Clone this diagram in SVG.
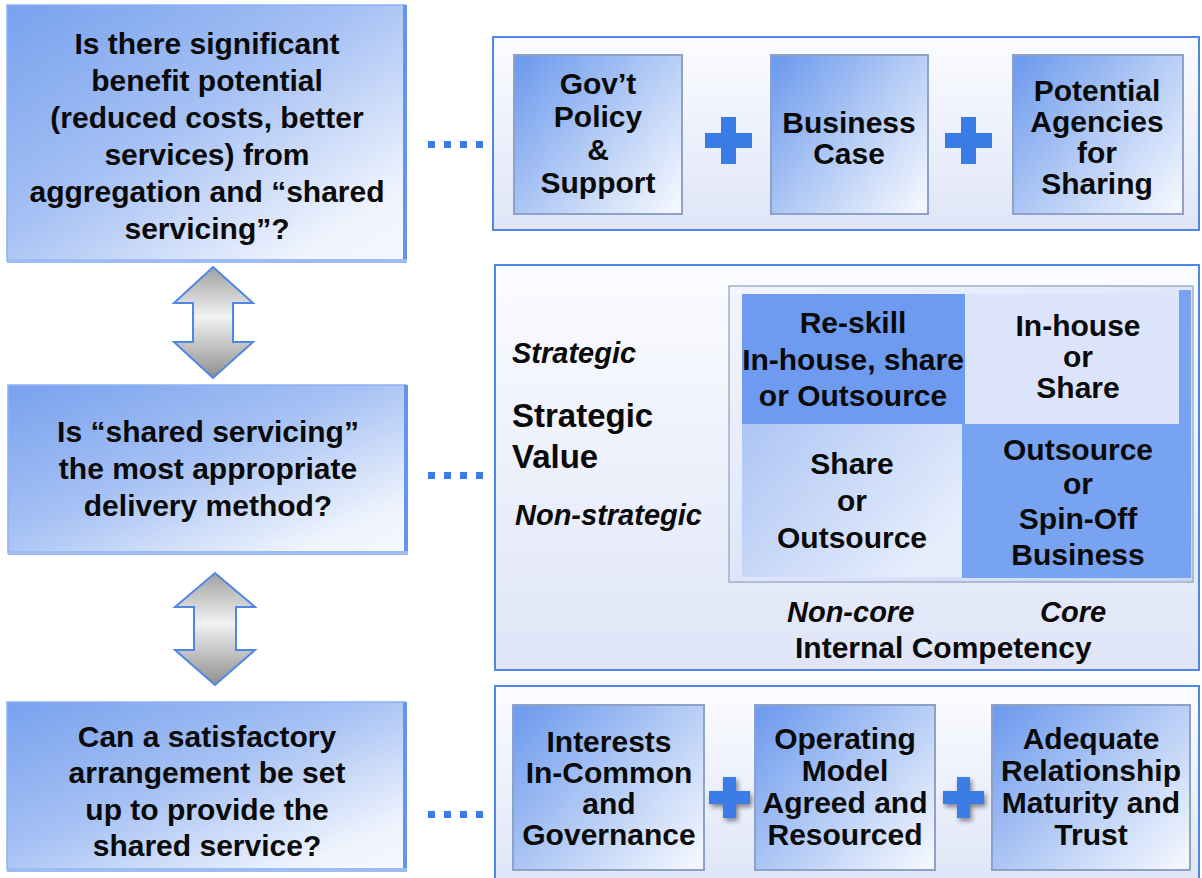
<svg xmlns="http://www.w3.org/2000/svg" width="1202" height="878" viewBox="0 0 1202 878">
<defs>
  <linearGradient id="gQ" x1="0" y1="0" x2="1" y2="1">
    <stop offset="0" stop-color="#78a1ee"/>
    <stop offset="0.45" stop-color="#a6c1f4"/>
    <stop offset="0.85" stop-color="#eef3fd"/>
    <stop offset="1" stop-color="#f6f8fe"/>
  </linearGradient>
  <linearGradient id="gPanel" x1="0" y1="0" x2="0" y2="1">
    <stop offset="0" stop-color="#fbfcff"/>
    <stop offset="1" stop-color="#dfe5f7"/>
  </linearGradient>
  <linearGradient id="gBox" x1="0" y1="0.1" x2="1" y2="0.9">
    <stop offset="0" stop-color="#709cee"/>
    <stop offset="0.5" stop-color="#b2caf5"/>
    <stop offset="1" stop-color="#f2f6fe"/>
  </linearGradient>
  <linearGradient id="gArrow" x1="0" y1="0" x2="0" y2="1">
    <stop offset="0" stop-color="#a0a0a0"/>
    <stop offset="0.45" stop-color="#f2f2f2"/>
    <stop offset="1" stop-color="#8e8e8e"/>
  </linearGradient>
  <linearGradient id="gFrame" x1="0" y1="0" x2="1" y2="1">
    <stop offset="0" stop-color="#f2f5fd"/>
    <stop offset="1" stop-color="#c9d7f5"/>
  </linearGradient>
  <linearGradient id="gBL" x1="0" y1="0" x2="1" y2="0.6">
    <stop offset="0" stop-color="#adc5f4"/>
    <stop offset="1" stop-color="#e6edfc"/>
  </linearGradient>
  <filter id="sh" x="-30%" y="-30%" width="160%" height="160%">
    <feGaussianBlur in="SourceAlpha" stdDeviation="2.5"/>
    <feOffset dx="2" dy="3" result="b"/>
    <feComponentTransfer><feFuncA type="linear" slope="0.45"/></feComponentTransfer>
    <feMerge><feMergeNode/><feMergeNode in="SourceGraphic"/></feMerge>
  </filter>
</defs>
<style>
  text { font-family: "Liberation Sans", Arial, sans-serif; font-weight: bold; fill: #0a0a0a; }
  .c { text-anchor: middle; }
  .q { font-size: 30px; }
  .t { font-size: 30px; }
  .it { font-style: italic; font-size: 29px; }
  .sv { font-size: 33px; }
  .qbox { fill: url(#gQ); stroke: #8fb2f2; stroke-width: 1.5; }
  .edgeR { fill: #6495ec; }
  .edgeB { fill: #9dbcf4; }
  .panel { fill: url(#gPanel); stroke: #4f87e6; stroke-width: 2; }
  .box { fill: url(#gBox); stroke: #8da2c6; stroke-width: 2; }
  .plus { fill: #3a7ce6; }
  .arrow { fill: url(#gArrow); stroke: #4f87e6; stroke-width: 2; stroke-linejoin: miter; }
  .dot { fill: #3a7ce6; }
</style>

<!-- Left question boxes -->
<g id="q1">
  <rect class="qbox" x="7" y="5" width="398" height="256"/>
  <rect class="edgeR" x="403" y="5" width="4" height="258"/>
  <rect class="edgeB" x="7" y="259" width="400" height="4"/>
  <text class="q c" x="207" y="54">Is there significant</text>
  <text class="q c" x="207" y="91">benefit potential</text>
  <text class="q c" x="207" y="128">(reduced costs, better</text>
  <text class="q c" x="207" y="165">services) from</text>
  <text class="q c" x="207" y="202">aggregation and “shared</text>
  <text class="q c" x="207" y="239">servicing”?</text>
</g>
<g id="q2">
  <rect class="qbox" x="8" y="385" width="398" height="168"/>
  <rect class="edgeR" x="404" y="385" width="4" height="170"/>
  <rect class="edgeB" x="8" y="551" width="400" height="4"/>
  <text class="q c" x="208" y="442">Is “shared servicing”</text>
  <text class="q c" x="208" y="479">the most appropriate</text>
  <text class="q c" x="208" y="516">delivery method?</text>
</g>
<g id="q3">
  <rect class="qbox" x="7" y="702" width="398" height="168"/>
  <rect class="edgeR" x="403" y="702" width="4" height="170"/>
  <rect class="edgeB" x="7" y="868" width="400" height="4"/>
  <text class="q c" x="207" y="747">Can a satisfactory</text>
  <text class="q c" x="207" y="783">arrangement be set</text>
  <text class="q c" x="207" y="820">up to provide the</text>
  <text class="q c" x="207" y="856">shared service?</text>
</g>

<!-- Connectors -->
<g id="connectors">
  <polygon class="arrow" points="213,267 253,303 233,303 233,342 253,342 213,378 174,342 193,342 193,303 174,303"/>
  <polygon class="arrow" points="215,573 255,607 236,607 236,650 255,650 215,685 175,650 194,650 194,607 175,607"/>
  <rect class="dot" x="428" y="141" width="7" height="7"/>
  <rect class="dot" x="444" y="141" width="7" height="7"/>
  <rect class="dot" x="460" y="141" width="7" height="7"/>
  <rect class="dot" x="476" y="141" width="7" height="7"/>
  <rect class="dot" x="428" y="472" width="7" height="7"/>
  <rect class="dot" x="444" y="472" width="7" height="7"/>
  <rect class="dot" x="460" y="472" width="7" height="7"/>
  <rect class="dot" x="476" y="472" width="7" height="7"/>
  <rect class="dot" x="428" y="811" width="7" height="7"/>
  <rect class="dot" x="444" y="811" width="7" height="7"/>
  <rect class="dot" x="460" y="811" width="7" height="7"/>
  <rect class="dot" x="476" y="811" width="7" height="7"/>
</g>

<!-- Top right panel -->
<g id="panel1">
  <rect class="panel" x="493" y="37" width="706" height="193"/>
  <g id="govt">
    <rect class="box" x="514" y="55" width="168" height="159"/>
    <text class="t c" x="598" y="94">Gov’t</text>
    <text class="t c" x="598" y="127">Policy</text>
    <text class="t c" x="598" y="160">&amp;</text>
    <text class="t c" x="598" y="193">Support</text>
  </g>
  <path class="plus" d="M721,117 h15 v16 h16 v15 h-16 v16 h-15 v-16 h-16 v-15 h16 z"/>
  <g id="business">
    <rect class="box" x="771" y="55" width="157" height="159"/>
    <text class="t c" x="849" y="133">Business</text>
    <text class="t c" x="849" y="164">Case</text>
  </g>
  <path class="plus" d="M961,117 h15 v16 h16 v15 h-16 v16 h-15 v-16 h-16 v-15 h16 z"/>
  <g id="agencies">
    <rect class="box" x="1013" y="55" width="170" height="159"/>
    <text class="t c" x="1097" y="101">Potential</text>
    <text class="t c" x="1097" y="132">Agencies</text>
    <text class="t c" x="1097" y="163">for</text>
    <text class="t c" x="1097" y="194">Sharing</text>
  </g>
</g>

<!-- Middle right panel -->
<g id="panel2">
  <rect class="panel" x="495" y="265" width="704" height="405"/>
  <text class="it" x="512" y="363">Strategic</text>
  <text class="sv" x="512" y="427">Strategic</text>
  <text class="sv" x="512" y="468">Value</text>
  <text class="it" x="515" y="525">Non-strategic</text>
  <g id="matrix">
    <rect x="729" y="286" width="464" height="296" fill="url(#gFrame)" stroke="#a3aec4" stroke-width="1.5"/>
    <rect x="1179" y="290" width="12" height="288" fill="#78a3f0"/>
    <rect x="742" y="294" width="223" height="130" fill="#6e9bef"/>
    <rect x="965" y="294" width="214" height="130" fill="#dbe4fa"/>
    <rect x="742" y="424" width="220" height="153" fill="url(#gBL)"/>
    <rect x="962" y="424" width="229" height="154" fill="#78a3f0"/>
    <text class="t c" x="853" y="333">Re-skill</text>
    <text class="t c" x="853" y="370">In-house, share</text>
    <text class="t c" x="853" y="406">or Outsource</text>
    <text class="t c" x="1078" y="336">In-house</text>
    <text class="t c" x="1078" y="367">or</text>
    <text class="t c" x="1078" y="398">Share</text>
    <text class="t c" x="852" y="474">Share</text>
    <text class="t c" x="852" y="511">or</text>
    <text class="t c" x="852" y="548">Outsource</text>
    <text class="t c" x="1078" y="460">Outsource</text>
    <text class="t c" x="1078" y="494">or</text>
    <text class="t c" x="1078" y="529">Spin-Off</text>
    <text class="t c" x="1078" y="565">Business</text>
  </g>
  <text class="it" x="787" y="622">Non-core</text>
  <text class="it" x="1040" y="622">Core</text>
  <text class="t" x="795" y="658">Internal Competency</text>
</g>

<!-- Bottom right panel -->
<g id="panel3">
  <rect class="panel" x="495" y="686" width="704" height="200"/>
  <g id="interests">
    <rect class="box" x="513" y="705" width="191" height="165"/>
    <text class="t c" x="609" y="752">Interests</text>
    <text class="t c" x="609" y="783">In-Common</text>
    <text class="t c" x="609" y="814">and</text>
    <text class="t c" x="609" y="845">Governance</text>
  </g>
  <path class="plus" filter="url(#sh)" d="M723,777 h13 v14 h14 v13 h-14 v14 h-13 v-14 h-14 v-13 h14 z"/>
  <g id="operating">
    <rect class="box" x="755" y="705" width="180" height="165"/>
    <text class="t c" x="845" y="749">Operating</text>
    <text class="t c" x="845" y="781">Model</text>
    <text class="t c" x="845" y="813">Agreed and</text>
    <text class="t c" x="845" y="845">Resourced</text>
  </g>
  <path class="plus" filter="url(#sh)" d="M957,777 h13 v14 h14 v13 h-14 v14 h-13 v-14 h-14 v-13 h14 z"/>
  <g id="adequate">
    <rect class="box" x="992" y="705" width="198" height="165"/>
    <text class="t c" x="1091" y="749">Adequate</text>
    <text class="t c" x="1091" y="781">Relationship</text>
    <text class="t c" x="1091" y="813">Maturity and</text>
    <text class="t c" x="1091" y="845">Trust</text>
  </g>
</g>
</svg>
